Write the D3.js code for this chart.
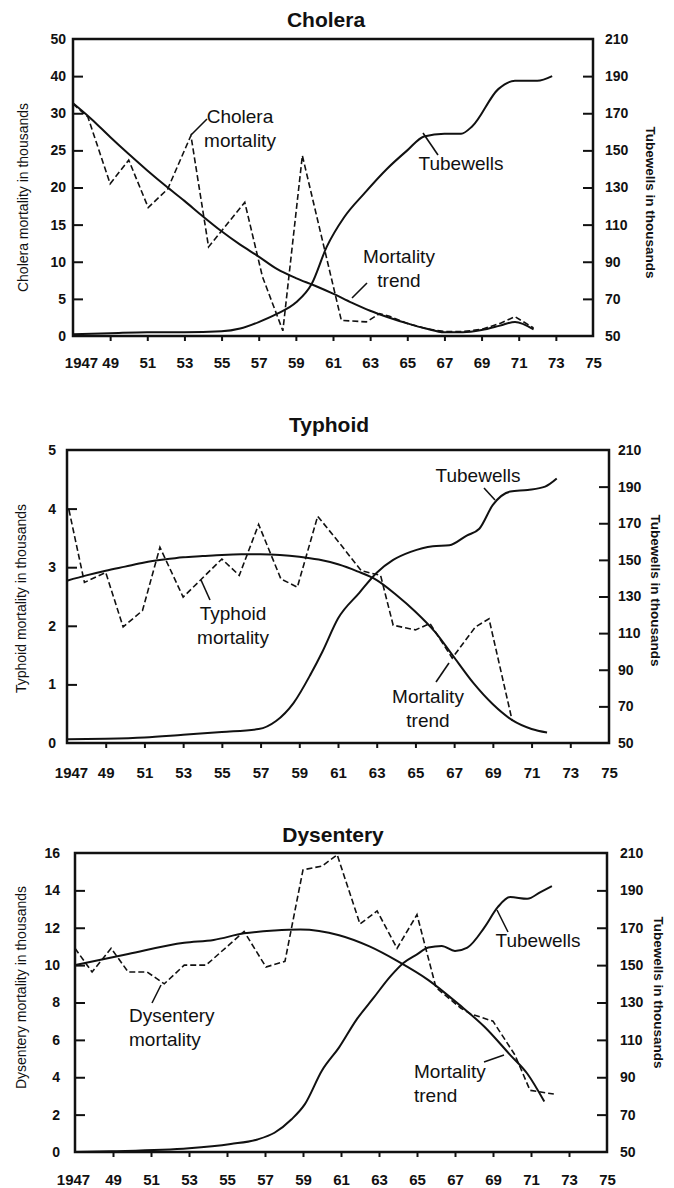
<!DOCTYPE html>
<html>
<head>
    <script src="https://d3js.org/d3.v7.min.js"></script>
    <style>
        body { margin: 0; background: #fff; }
        text { font-family: "Liberation Sans", Arial, sans-serif; fill: #111; }
    </style>
</head>
<body>

<script>
// ---- shared axis ticks ----
const xTicks = [1947, 1949, 1951, 1953, 1955, 1957, 1959, 1961, 1963, 1965, 1967, 1969, 1971, 1973, 1975];
const xTickLabels = ['1947', '49', '51', '53', '55', '57', '59', '61', '63', '65', '67', '69', '71', '73', '75'];
const tubewellTicks = [50, 70, 90, 110, 130, 150, 170, 190, 210];

// ---- Cholera ----
const choleraTicks = [0, 5, 10, 15, 20, 25, 30, 40, 50];
const choleraYears = [1947, 1947.8, 1949, 1950, 1951.05, 1952.1, 1953.35, 1954.3, 1956.25, 1957.2, 1958.3, 1959.35,
    1961.45, 1962.8, 1963.5, 1964, 1965, 1966, 1967, 1968, 1969, 1970, 1970.8, 1971.8];
const choleraMortality = [32.5, 29.5, 20.5, 23.7, 17.3, 19.8, 27.0, 12.0, 18.0, 8.0, 0.7, 24.3,
    2.1, 1.9, 3.0, 2.7, 1.7, 1.0, 0.6, 0.6, 0.9, 1.7, 2.6, 1.1];
const choleraTrendYears = [1947, 1948, 1949, 1950, 1951, 1952, 1953, 1954, 1955, 1956, 1957, 1958, 1959, 1960,
    1961, 1962, 1963, 1964, 1965, 1966, 1967, 1968, 1969, 1970, 1970.8, 1971.8];
const choleraTrend = [32.7, 29.2, 26.8, 24.5, 22.3, 20.2, 18.2, 16.1, 14.1, 12.3, 10.7, 9.0, 7.8, 6.8,
    5.7, 4.5, 3.4, 2.5, 1.7, 1.0, 0.5, 0.5, 0.8, 1.4, 1.9, 0.9];
const choleraWellYears = [1947, 1949, 1951, 1953, 1955, 1956, 1957, 1958, 1959, 1959.85, 1960.66, 1961.6,
    1962.7, 1963.9, 1965, 1965.9, 1967, 1967.9, 1968.5, 1969.9, 1970.8, 1972, 1972.8];
const choleraWells = [51, 51.5, 52, 52, 52.5, 54, 57.5, 62, 68, 78, 98, 114,
    127, 140, 150, 157.5, 159, 159, 163, 183, 187.5, 187.5, 190];

// ---- Typhoid ----
const typhoidTicks = [0, 1, 2, 3, 4, 5];
const typhoidYears = [1947.1, 1947.9, 1949, 1949.9, 1950.9, 1951.8, 1953, 1955, 1955.9, 1956.9, 1958.05, 1958.9,
    1959.95, 1961.2, 1962.2, 1963.2, 1963.85, 1965, 1965.75, 1966.9, 1968.1, 1968.8, 1970];
const typhoidMortality = [3.98, 2.74, 2.91, 1.98, 2.26, 3.34, 2.49, 3.14, 2.86, 3.73, 2.8, 2.66,
    3.87, 3.36, 2.94, 2.86, 2.01, 1.93, 2.04, 1.45, 1.98, 2.12, 0.38];
const typhoidTrendYears = [1947, 1948, 1949, 1950, 1951, 1952, 1953, 1954, 1955, 1956, 1957, 1958, 1959, 1960,
    1961, 1962, 1963, 1964, 1965, 1966, 1967, 1968, 1969, 1970, 1971, 1971.8];
const typhoidTrend = [2.77, 2.86, 2.94, 3.01, 3.08, 3.13, 3.17, 3.19, 3.21, 3.22, 3.22, 3.21, 3.18, 3.13,
    3.05, 2.93, 2.78, 2.53, 2.24, 1.9, 1.46, 1.02, 0.66, 0.39, 0.24, 0.18];
const typhoidWellYears = [1947, 1949, 1951, 1953, 1955, 1956.9, 1957.8, 1958.7, 1959.6, 1960.2, 1961, 1962.1,
    1963, 1963.85, 1964.75, 1965.9, 1966.75, 1967.65, 1968.3, 1969, 1969.9, 1970.8, 1971.7, 1972.3];
const typhoidWells = [52, 52.3, 53, 54.5, 56, 57.6, 62, 71.8, 87.8, 100, 118, 132,
    143, 150, 154.4, 157.5, 158, 163.3, 167, 180, 187.3, 188.2, 190, 194.4];

// ---- Dysentery ----
const dysenteryTicks = [0, 2, 4, 6, 8, 10, 12, 14, 16];
const dysenteryYears = [1947, 1947.9, 1948.9, 1949.8, 1950.8, 1951.7, 1952.75, 1953.9, 1955.9, 1957.05, 1958.05,
    1959, 1960, 1960.8, 1962, 1962.9, 1963.95, 1965, 1966, 1967.3, 1967.8, 1969, 1970.15, 1970.95, 1972.2];
const dysenteryMortality = [10.9, 9.63, 10.9, 9.63, 9.63, 9.0, 10.0, 10.0, 11.8, 9.9, 10.2,
    15.1, 15.3, 15.9, 12.2, 12.9, 10.9, 12.7, 8.8, 7.7, 7.4, 7.0, 5.2, 3.3, 3.1];
const dysenteryTrendYears = [1947, 1949.8, 1952.75, 1954.3, 1955.9, 1957.5, 1958.85, 1960.9, 1962.5, 1964,
    1965.6, 1967.2, 1968.55, 1969.9, 1970.8, 1971.7];
const dysenteryTrend = [10.0, 10.6, 11.2, 11.35, 11.7, 11.85, 11.9, 11.6, 11.0, 10.2,
    9.2, 7.9, 6.7, 5.2, 4.2, 2.7];
const dysenteryWellYears = [1947, 1948.9, 1953, 1955.2, 1956.6, 1957.5, 1958.4, 1959.1, 1960, 1960.9, 1961.8,
    1962.7, 1963.6, 1964.3, 1965, 1965.6, 1966.3, 1967, 1967.65, 1968.55, 1969.25, 1969.9, 1970.8, 1971.5, 1972.1];
const dysenteryWells = [50, 50.4, 52, 54.3, 56.7, 60.3, 67.5, 75.6, 93.6, 106, 120.6,
    132.3, 144, 151.3, 155.8, 159.4, 160.3, 157.6, 159.4, 170.2, 181, 186.4, 185.5, 189.1, 192.3];

const zip = (xs, ys) => xs.map((x, i) => [x, ys[i]]);

const svg = d3.select('body')
    .append('svg')
    .attr('width', 674)
    .attr('height', 1188);

function drawPanel(p) {
    const x = d3.scaleLinear().domain([1947, 1975]).range([p.left, p.right]);
    const yL = d3.scaleLinear().domain(p.leftDomain)
        .range(p.leftRange ? p.leftRange(p.top, p.bottom) : [p.bottom, p.top]);
    const yR = d3.scaleLinear().domain([50, 210]).range([p.bottom, p.top]);

    const g = svg.append('g');

    // title
    g.append('text')
        .attr('x', p.titleX).attr('y', p.titleY)
        .attr('text-anchor', 'middle')
        .attr('font-size', 21).attr('font-weight', 'bold')
        .text(p.title);

    // axes
    const left = g.append('g')
        .attr('transform', `translate(${p.left},0)`)
        .call(d3.axisLeft(yL).tickValues(p.leftTicks).tickSize(-10).tickPadding(p.leftPad).tickFormat(d3.format('d')));
    const right = g.append('g')
        .attr('transform', `translate(${p.right},0)`)
        .call(d3.axisRight(yR).tickValues(tubewellTicks).tickSize(-10).tickPadding(p.rightPad));
    const bottom = g.append('g')
        .attr('transform', `translate(0,${p.bottom})`)
        .call(d3.axisBottom(x).tickValues(xTicks).tickSize(5).tickPadding(p.bottomPad)
            .tickFormat((d, i) => xTickLabels[i]));

    [left, right, bottom].forEach(a => {
        a.select('.domain').remove();
        a.selectAll('line').attr('stroke', '#111').attr('stroke-width', 2);
        a.selectAll('text').attr('font-weight', 'bold').attr('fill', '#111')
            .attr('font-family', '"Liberation Sans", Arial, sans-serif');
    });
    left.selectAll('text').attr('font-size', 14);
    right.selectAll('text').attr('font-size', 14);
    bottom.selectAll('text').attr('font-size', 15);
    bottom.selectAll('.tick').filter(d => d === 1947).select('text').attr('dx', p.firstDx);
    // no tick drawn at the ends of the axes
    left.selectAll('.tick').filter(d => d === p.leftDomain[0] || d === p.leftDomain[p.leftDomain.length - 1])
        .select('line').remove();
    right.selectAll('.tick').filter(d => d === 50 || d === 210).select('line').remove();
    bottom.selectAll('.tick').filter(d => d === 1947 || d === 1975).select('line').remove();

    // frame
    g.append('rect')
        .attr('x', p.left).attr('y', p.top)
        .attr('width', p.right - p.left).attr('height', p.bottom - p.top)
        .attr('fill', 'none').attr('stroke', '#111').attr('stroke-width', 2.5);

    // axis titles
    g.append('text')
        .attr('transform', `translate(${p.left - p.leftTitleOff},${(p.top + p.bottom) / 2 + p.leftTitleDy}) rotate(-90)`)
        .attr('text-anchor', 'middle').attr('dominant-baseline', 'central')
        .attr('font-size', 14)
        .text(p.leftTitle);
    g.append('text')
        .attr('transform', `translate(${p.right + p.rightTitleOff},${(p.top + p.bottom) / 2 + p.rightTitleDy}) rotate(90)`)
        .attr('text-anchor', 'middle').attr('dominant-baseline', 'central')
        .attr('font-size', 13.5).attr('font-weight', 'bold')
        .text('Tubewells in thousands');

    // lines
    const smoothL = d3.line().x(d => x(d[0])).y(d => yL(d[1])).curve(d3.curveMonotoneX);
    const smoothR = d3.line().x(d => x(d[0])).y(d => yR(d[1])).curve(d3.curveMonotoneX);
    const straightL = d3.line().x(d => x(d[0])).y(d => yL(d[1]));

    g.append('path')
        .datum(p.trend)
        .attr('d', smoothL)
        .attr('fill', 'none').attr('stroke', '#111').attr('stroke-width', 2);
    g.append('path')
        .datum(p.wells)
        .attr('d', smoothR)
        .attr('fill', 'none').attr('stroke', '#111').attr('stroke-width', 2);
    g.append('path')
        .datum(p.mortality)
        .attr('d', straightL)
        .attr('fill', 'none').attr('stroke', '#111').attr('stroke-width', 1.6)
        .attr('stroke-dasharray', '6,3');

    // labels with leader lines (offsets from the plot corner)
    p.notes.forEach(n => {
        n.lines.forEach((t, i) => {
            g.append('text')
                .attr('x', p.left + n.x).attr('y', p.top + n.y + i * 24)
                .attr('text-anchor', n.anchor || 'middle')
                .attr('font-size', 19)
                .text(t);
        });
        g.append('line')
            .attr('x1', p.left + n.leader[0]).attr('y1', p.top + n.leader[1])
            .attr('x2', p.left + n.leader[2]).attr('y2', p.top + n.leader[3])
            .attr('stroke', '#111').attr('stroke-width', 1.6);
    });
}

drawPanel({
    title: 'Cholera', titleX: 326, titleY: 27,
    left: 73, right: 593, top: 39, bottom: 336,
    leftDomain: [0, 30, 50], leftRange: (t, b) => [b, b - (b - t) * 6 / 8, t],
    leftTicks: choleraTicks, leftPad: 7, rightPad: 12, bottomPad: 16, firstDx: 8,
    leftTitle: 'Cholera mortality in thousands', leftTitleOff: 50, leftTitleDy: 10,
    rightTitleOff: 57, rightTitleDy: 15,
    mortality: zip(choleraYears, choleraMortality),
    trend: zip(choleraTrendYears, choleraTrend),
    wells: zip(choleraWellYears, choleraWells),
    notes: [
        { lines: ['Cholera', 'mortality'], x: 167, y: 84, leader: [118, 96, 134, 80] },
        { lines: ['Tubewells'], x: 388, y: 131, leader: [350, 94, 365, 116] },
        { lines: ['Mortality', 'trend'], x: 326, y: 224, leader: [279, 259, 294, 244] }
    ]
});

drawPanel({
    title: 'Typhoid', titleX: 329, titleY: 432,
    left: 67, right: 609, top: 450, bottom: 743,
    leftDomain: [0, 5],
    leftTicks: typhoidTicks, leftPad: 11, rightPad: 9, bottomPad: 19, firstDx: 4,
    leftTitle: 'Typhoid mortality in thousands', leftTitleOff: 46, leftTitleDy: 2,
    rightTitleOff: 46, rightTitleDy: -6,
    mortality: zip(typhoidYears, typhoidMortality),
    trend: zip(typhoidTrendYears, typhoidTrend),
    wells: zip(typhoidWellYears, typhoidWells),
    notes: [
        { lines: ['Tubewells'], x: 411, y: 32, leader: [428, 50, 417, 38] },
        { lines: ['Typhoid', 'mortality'], x: 166, y: 170, leader: [134, 130, 143, 150] },
        { lines: ['Mortality', 'trend'], x: 361, y: 253, leader: [382, 213, 369, 232] }
    ]
});

drawPanel({
    title: 'Dysentery', titleX: 333, titleY: 842,
    left: 75, right: 607, top: 853, bottom: 1152,
    leftDomain: [0, 16],
    leftTicks: dysenteryTicks, leftPad: 15, rightPad: 13, bottomPad: 17, firstDx: -2,
    leftTitle: 'Dysentery mortality in thousands', leftTitleOff: 54, leftTitleDy: -15,
    rightTitleOff: 51, rightTitleDy: -10,
    mortality: zip(dysenteryYears, dysenteryMortality),
    trend: zip(dysenteryTrendYears, dysenteryTrend),
    wells: zip(dysenteryWellYears, dysenteryWells),
    notes: [
        { lines: ['Tubewells'], x: 463, y: 94, leader: [422, 57, 433, 79] },
        { lines: ['Dysentery', 'mortality'], x: 54, y: 169, anchor: 'start', leader: [86, 132, 77, 150] },
        { lines: ['Mortality', 'trend'], x: 339, y: 225, anchor: 'start', leader: [429, 202, 409, 209] }
    ]
});
</script>

</body>
</html>
